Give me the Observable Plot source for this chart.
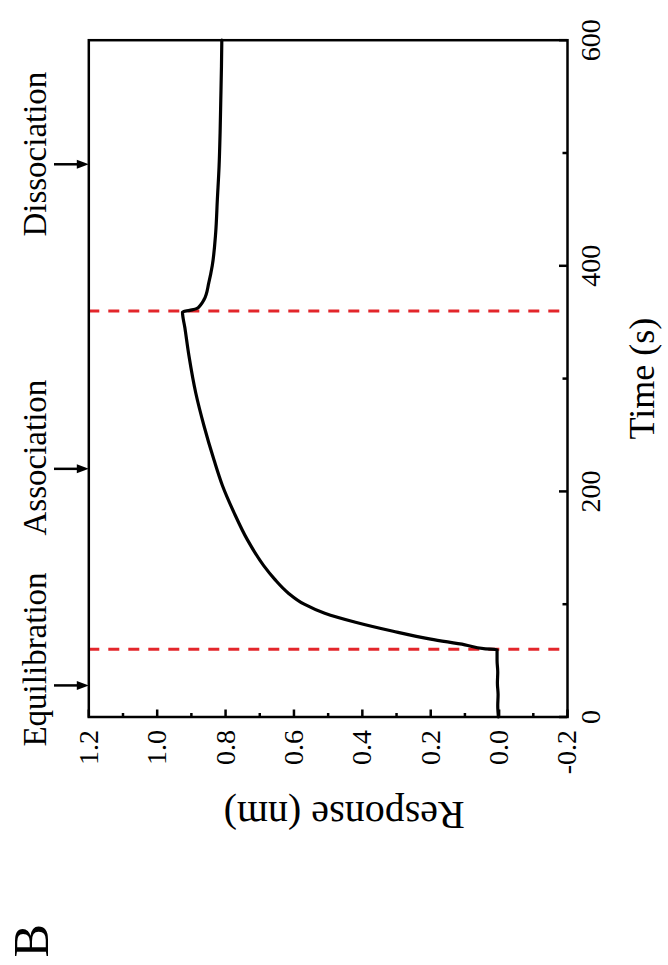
<!DOCTYPE html>
<html><head><meta charset="utf-8">
<script src="https://cdn.jsdelivr.net/npm/d3@7"></script>
<script src="https://cdn.jsdelivr.net/npm/@observablehq/plot@0.6"></script>
<style>
html,body{margin:0;padding:0;overflow:hidden;background:#fff;width:668px;height:965px;}
#rot{position:absolute;left:0;top:0;width:965px;height:668px;transform-origin:0 0;transform:translate(0,965px) rotate(-90deg);}
</style></head><body><div id="rot"></div>
<script>
// Data read from the (rotated) figure
const equilTime = [0, 10, 20, 30, 40, 50, 59.8];
const equilResp = [0.002, 0.004, 0.003, 0.005, 0.004, 0.006, 0.006];
const assocTime = [60.4, 64, 69, 76, 84, 92, 100, 110, 122, 134, 157, 181, 205, 228, 258, 287, 320, 345, 359];
const assocResp = [0.04, 0.10, 0.20, 0.31, 0.42, 0.51, 0.57, 0.617, 0.656, 0.688, 0.736, 0.775, 0.809, 0.834, 0.863, 0.887, 0.907, 0.919, 0.926];
const dissocTime = [360.5, 362, 365, 370, 385, 400, 429, 459, 488, 518, 547, 577, 600];
const dissocResp = [0.905, 0.885, 0.874, 0.863, 0.849, 0.839, 0.829, 0.824, 0.819, 0.816, 0.814, 0.812, 0.811];
const phaseBoundaries = [60, 360];
const phaseNames = ["Equilibration", "Association", "Dissociation"];
const phaseLabelTime = [51, 230, 499];
const phaseArrowTime = [28, 220, 490];
const timeTicks = [0, 200, 400, 600];
const timeMinorTicks = [100, 300, 500];
const respTicks = [-0.2, 0, 0.2, 0.4, 0.6, 0.8, 1.0, 1.2];
const respMinorTicks = [-0.1, 0.1, 0.3, 0.5, 0.7, 0.9, 1.1];
const xLabel = "Time (s)";
const yLabel = "Response (nm)";
const panelLabel = "B";

const data = [
  ...equilTime.map((t, i) => ({t, r: equilResp[i]})),
  ...assocTime.map((t, i) => ({t, r: assocResp[i]})),
  ...dissocTime.map((t, i) => ({t, r: dissocResp[i]}))
];

const W = 965, H = 668;
const mL = 247.5, mR = 40.7, mT = 88.3, mB = 101;
const fw = W - mL - mR, fh = H - mT - mB;
const serif = '"Liberation Serif","Times New Roman",serif';
const arrowHead = {draw(ctx) { ctx.moveTo(0, 0); ctx.lineTo(-4.5, -12); ctx.lineTo(4.5, -12); ctx.closePath(); }};

const chart = Plot.plot({
  width: W, height: H,
  marginLeft: mL, marginRight: mR, marginTop: mT, marginBottom: mB,
  style: {fontFamily: serif, background: "white", color: "black", overflow: "visible"},
  x: {domain: [0, 600]},
  y: {domain: [-0.2, 1.2]},
  marks: [
    Plot.ruleX(phaseBoundaries, {stroke: "#e3262b", strokeWidth: 3, strokeDasharray: "11,9"}),
    Plot.line(data, {x: "t", y: "r", curve: "monotone-x", stroke: "black", strokeWidth: 3.2}),
    Plot.frame({stroke: "black", strokeWidth: 2.5}),
    Plot.tickX(timeTicks, {x: d => d, insetTop: fh - 8, stroke: "black", strokeWidth: 2.5}),
    Plot.tickX(timeMinorTicks, {x: d => d, insetTop: fh - 4.5, stroke: "black", strokeWidth: 2.5}),
    Plot.tickY(respTicks, {y: d => d, insetRight: fw - 8, stroke: "black", strokeWidth: 2.5}),
    Plot.tickY(respMinorTicks, {y: d => d, insetRight: fw - 4.5, stroke: "black", strokeWidth: 2.5}),
    Plot.axisX(timeTicks, {tickSize: 0, tickPadding: 13, fontSize: 28, label: null}),
    Plot.axisY(respTicks, {tickSize: 0, tickPadding: 13, fontSize: 28, label: null, tickFormat: d => d.toFixed(1)}),
    // phase arrows
    Plot.tickX(phaseArrowTime, {x: d => d, insetTop: -34.3, insetBottom: fh + 8, stroke: "black", strokeWidth: 2.5}),
    Plot.dot(phaseArrowTime, {x: d => d, frameAnchor: "top", symbol: arrowHead, r: 6, fill: "black", stroke: "none"}),
    Plot.text(phaseNames, {text: d => d, x: phaseLabelTime, frameAnchor: "top", dy: 45 - mT, lineAnchor: "bottom", fontSize: 33}),
    // axis titles
    Plot.text([xLabel], {text: d => d, frameAnchor: "bottom", dy: 653 - (H - mB), lineAnchor: "bottom", fontSize: 36}),
    Plot.text([yLabel], {text: d => d, frameAnchor: "left", textAnchor: "middle", rotate: -90, dx: 162.5 - mL, dy: 16, lineAnchor: "bottom", fontSize: 40}),
    Plot.text([panelLabel], {text: d => d, frameAnchor: "top-left", dx: 7 - mL, dy: 47 - mT, textAnchor: "start", lineAnchor: "bottom", fontSize: 50})
  ]
});
document.getElementById("rot").appendChild(chart);
</script>
</body></html>
